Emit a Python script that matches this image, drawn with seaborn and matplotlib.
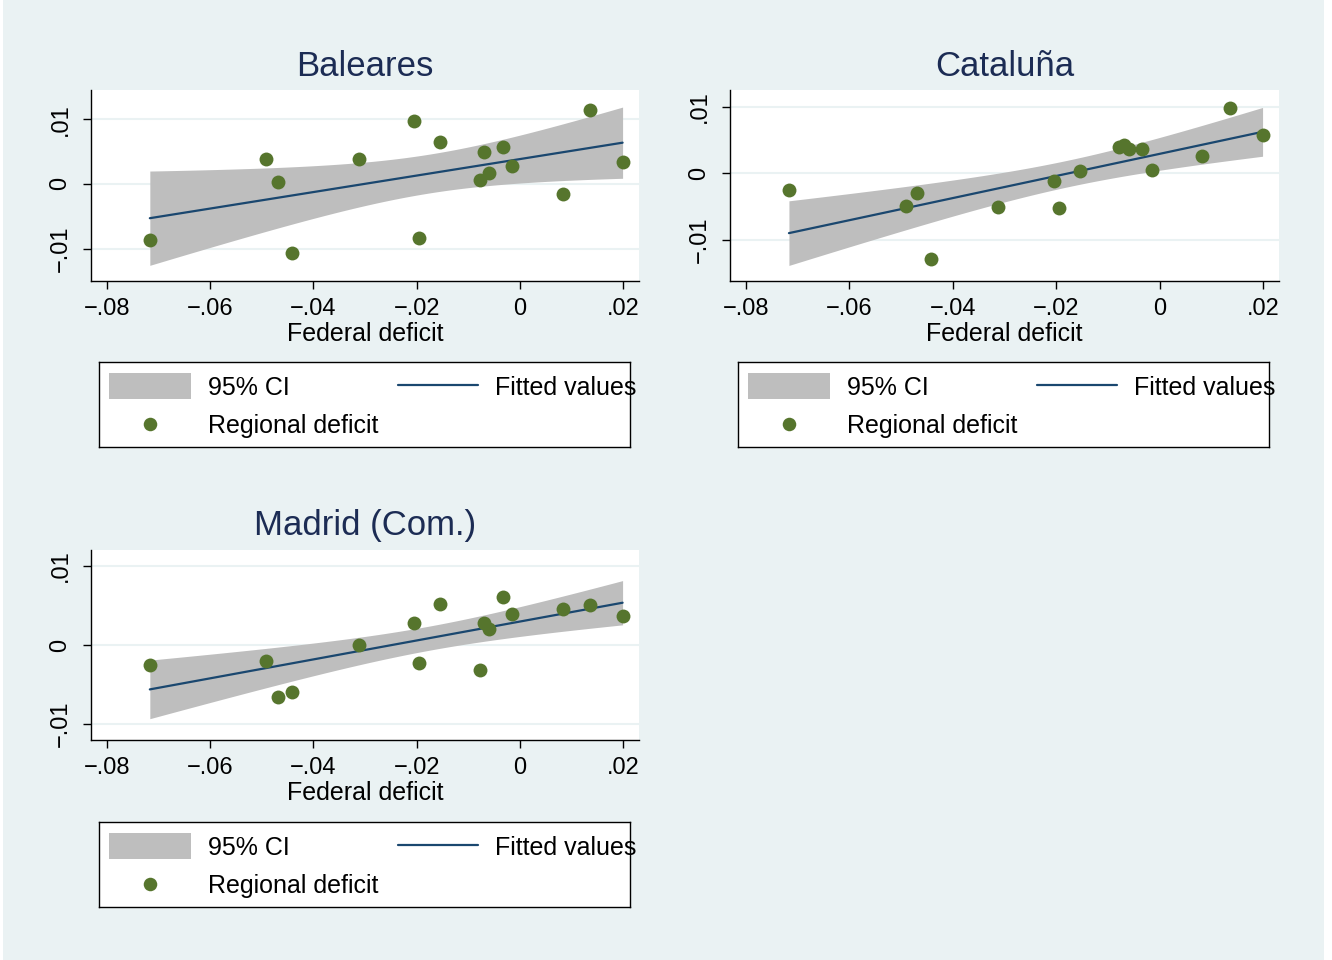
import numpy as np
import pandas as pd
import seaborn as sns
import matplotlib
matplotlib.use("Agg")
from matplotlib import pyplot as plt
from matplotlib.patches import Rectangle

# federal deficit (shared x for every region)
federal = [-0.0717, -0.0491, -0.0469, -0.0442, -0.03125, -0.0205, -0.01955, -0.0154,
           -0.00777, -0.00687, -0.00596, -0.00332, -0.00143, 0.0083, 0.01358, 0.01992]

baleares = [-0.00862, 0.00385, 0.0003, -0.0107, 0.00385, 0.00974, -0.0083, 0.0064,
            0.00067, 0.00487, 0.00169, 0.00564, 0.00272, -0.00154, 0.01138, 0.00338]
cataluna = [-0.0026, -0.00495, -0.00295, -0.01285, -0.00515, -0.0012, -0.0053, 0.00035,
            0.00395, 0.0043, 0.0037, 0.0036, 0.00055, 0.0026, 0.0098, 0.00575]
madrid = [-0.00253, -0.00198, -0.00658, -0.0059, 0.0, 0.00283, -0.00224, 0.00519,
          -0.00312, 0.00274, 0.00198, 0.00603, 0.00397, 0.00456, 0.00502, 0.00367]

regions = ["Baleares", "Cataluña", "Madrid (Com.)"]
ylims = [(-0.0150, 0.0145), (-0.0162, 0.0125), (-0.0120, 0.0120)]
xticks = [-0.08, -0.06, -0.04, -0.02, 0, 0.02]
xticklabels = ["\u2212.08", "\u2212.06", "\u2212.04", "\u2212.02", "0", ".02"]
yticks = [-0.01, 0, 0.01]
yticklabels = ["\u2212.01", "0", ".01"]

NAVY = "#1A476F"
GREEN = "#56752D"
CI_GRAY = "#BEBEBE"
BG = "#EAF2F3"
TITLE = "#1C2C54"

sns.set_theme(style="white")
plt.rcParams["font.family"] = ["Liberation Sans", "DejaVu Sans"]

W, H = 1332, 960
fig = plt.figure(figsize=(13.32, 9.6), dpi=100, facecolor="white")
fig.patches.append(Rectangle((3 / W, 0), (1324 - 3) / W, 1, transform=fig.transFigure,
                             facecolor=BG, edgecolor="none", zorder=-10))


def px_rect(l, t, r, b):
    return [l / W, 1 - b / H, (r - l) / W, (b - t) / H]


def panel(rect, name, y, ylim):
    ax = fig.add_axes(px_rect(*rect))
    ax.set_facecolor("white")
    df = pd.DataFrame({"x": federal, "y": y})
    n = len(df)
    b1, b0 = np.polyfit(df.x, df.y, 1)
    resid = df.y - (b0 + b1 * df.x)
    s = np.sqrt((resid ** 2).sum() / (n - 2))
    sxx = ((df.x - df.x.mean()) ** 2).sum()
    grid = np.linspace(df.x.min(), df.x.max(), 200)
    fit = b0 + b1 * grid
    half = 2.1448 * s * np.sqrt(1 / n + (grid - df.x.mean()) ** 2 / sxx)
    ax.fill_between(grid, fit - half, fit + half, color=CI_GRAY, lw=0, zorder=2)
    sns.lineplot(x=grid, y=fit, ax=ax, color=NAVY, lw=1.6, zorder=3)
    sns.scatterplot(data=df, x="x", y="y", ax=ax, s=100, color=GREEN,
                    edgecolor=GREEN, linewidth=0, zorder=4)
    ax.set_xlim(-0.0831, 0.0231)
    ax.set_ylim(*ylim)
    ax.set_xticks(xticks)
    ax.set_xticklabels(xticklabels, fontsize=17)
    ax.set_yticks(yticks)
    ax.set_yticklabels(yticklabels, fontsize=17, rotation=90, va="center")
    ax.yaxis.grid(True, color=BG, lw=1.5, zorder=1)
    ax.set_axisbelow(True)
    for sp in ["top", "right"]:
        ax.spines[sp].set_visible(False)
    for sp in ["left", "bottom"]:
        ax.spines[sp].set_color("black")
        ax.spines[sp].set_linewidth(1.0)
    ax.tick_params(axis="both", direction="out", length=6, width=1, color="black",
                   bottom=True, left=True, labelcolor="black")
    ax.tick_params(axis="x", pad=6)
    ax.tick_params(axis="y", pad=8)
    ax.set_xlabel("Federal deficit", fontsize=18, color="black")
    ax.xaxis.set_label_coords(0.5, -53 / (rect[3] - rect[1]))
    ax.xaxis.label.set_va("center")
    ax.set_ylabel("")
    ax.text(0.5, 1 + 24 / (rect[3] - rect[1]), name, transform=ax.transAxes,
            ha="center", va="center", fontsize=25, color=TITLE)
    return ax


def legend_box(l, t):
    lax = fig.add_axes(px_rect(l, t, l + 531, t + 85))
    lax.set_xlim(0, 531)
    lax.set_ylim(85, 0)
    lax.set_xticks([])
    lax.set_yticks([])
    lax.set_facecolor("white")
    for sp in lax.spines.values():
        sp.set_visible(True)
        sp.set_color("black")
        sp.set_linewidth(1.0)
    lax.add_patch(Rectangle((10, 11), 82, 26, facecolor=CI_GRAY, edgecolor="none"))
    lax.text(109, 26, "95% CI", va="center", ha="left", fontsize=18, color="black")
    lax.plot([299, 379], [23, 23], color=NAVY, lw=1.6)
    lax.text(396, 26, "Fitted values", va="center", ha="left", fontsize=18,
             color="black", clip_on=False)
    lax.scatter([51], [62], s=95, color=GREEN, linewidths=0)
    lax.text(109, 64, "Regional deficit", va="center", ha="left", fontsize=18, color="black")


panel((91, 90, 639, 281), regions[0], baleares, ylims[0])
panel((730, 90, 1279, 281), regions[1], cataluna, ylims[1])
panel((91, 550, 639, 740), regions[2], madrid, ylims[2])

legend_box(99, 362)
legend_box(738, 362)
legend_box(99, 822)

fig.savefig("out.png", dpi=100, facecolor="white")
